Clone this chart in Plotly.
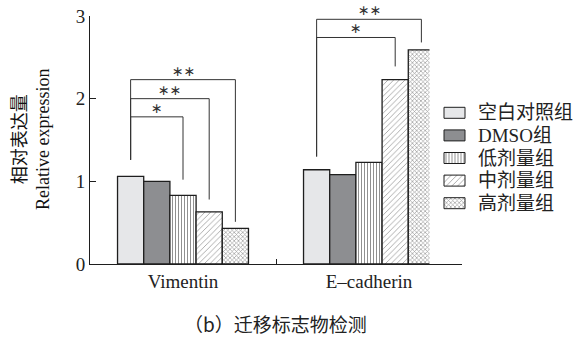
import plotly.graph_objects as go

# Relative expression of migration markers per treatment group
categories = ["Vimentin", "E–cadherin"]
groups = ["空白对照组", "DMSO组", "低剂量组", "中剂量组", "高剂量组"]
blank_ctrl = [1.06, 1.14]
dmso = [1.00, 1.08]
low_dose = [0.83, 1.23]
mid_dose = [0.63, 2.23]
high_dose = [0.43, 2.59]
series = [blank_ctrl, dmso, low_dose, mid_dose, high_dose]

# Significance brackets: (category index, compared group index, bracket level,
# left foot, right foot, label) — always compared against the blank control
brackets = [
    (0, 2, 1.78, 1.26, 1.02, "*"),
    (0, 3, 2.00, 1.26, 0.78, "**"),
    (0, 4, 2.23, 1.26, 0.51, "**"),
    (1, 3, 2.74, 1.30, 2.39, "*"),
    (1, 4, 2.96, 1.30, 2.68, "**"),
]

SERIF = "Liberation Serif, Noto Sans CJK SC, serif"
INK = "#1e1e1e"
fills = ["#e6e7e9", "#8d8e91", "white", "white", "white"]
patterns = [
    None,
    None,
    dict(shape="|", size=3, solidity=0.35, fgcolor="#222", bgcolor="white"),
    dict(shape="/", size=4, solidity=0.2, fgcolor="#333", bgcolor="white"),
    dict(shape="x", size=3, solidity=0.4, fgcolor="#333", bgcolor="white"),
]

BARGAP = 0.296
n = len(groups)
bar_w = (1 - BARGAP) / n

# Plot area spans the full width right of the left margin; the bar subplot
# takes the left part, the hand-drawn legend lives on an overlay subplot.
W, H = 575, 338
ML, MT, MB = 90, 16, 74
plot_w = W - ML
main_frac = 372 / plot_w

fig = go.Figure()
for name, vals, fill, pat in zip(groups, series, fills, patterns):
    marker = dict(color=fill, line=dict(color=INK, width=1.3))
    if pat:
        marker["pattern"] = pat
    fig.add_trace(go.Bar(x=categories, y=vals, name=name, marker=marker,
                         showlegend=False))


def bar_center(cat, k):
    return cat + (k - (n - 1) / 2) * bar_w


for cat, k, level, left_foot, right_foot, label in brackets:
    x0 = bar_center(cat, 0)
    x1 = bar_center(cat, k)
    fig.add_shape(
        type="path",
        path=f"M {x0},{left_foot} L {x0},{level} L {x1},{level} L {x1},{right_foot}",
        xref="x", yref="y", line=dict(color="#333", width=1),
    )
    fig.add_annotation(
        x=(x0 + x1) / 2, y=level, xref="x", yref="y", text=label.replace("*", "∗"),
        showarrow=False, yanchor="bottom", yshift=-1,
        font=dict(family="DejaVu Sans", size=14, color="#333"),
    )

# Legend: swatches drawn as filled scatter boxes on an overlay axis measured in pixels
LEG_X0 = 429.5          # left edge of the overlay subplot (px)
leg_left, leg_w, leg_h = 444 - LEG_X0, 21, 11
row0, row_gap = 112.8, 22.6
for i, (name, fill, pat) in enumerate(zip(groups, fills, patterns)):
    cy = row0 + i * row_gap
    y0, y1 = cy - leg_h / 2, cy + leg_h / 2
    x0, x1 = leg_left, leg_left + leg_w
    kw = dict(fillpattern=pat) if pat else {}
    fig.add_trace(go.Scatter(
        x=[x0, x1, x1, x0, x0], y=[y0, y0, y1, y1, y0],
        mode="lines", fill="toself", fillcolor=fill,
        line=dict(color=INK, width=1), xaxis="x2", yaxis="y2",
        showlegend=False, hoverinfo="skip", **kw,
    ))
    fig.add_annotation(
        x=x1 + 11, y=cy, xref="x2", yref="y2", text=name, showarrow=False,
        xanchor="left", yanchor="middle",
        font=dict(family=SERIF, size=19, color="#222"),
    )

fig.add_annotation(
    text="相对表达量<br>Relative expression", textangle=-90,
    xref="paper", yref="paper", x=(31 - ML) / plot_w, y=0.5,
    xanchor="center", yanchor="middle",
    showarrow=False, font=dict(family=SERIF, size=18, color="#111"),
)
fig.add_annotation(
    text="（b）迁移标志物检测",
    xref="paper", yref="paper", x=(275 - ML) / plot_w, y=(264 - 323) / (H - MT - MB),
    xanchor="center", yanchor="middle",
    showarrow=False,
    font=dict(family="Noto Sans CJK SC, Liberation Serif, serif", size=19, color="#222"),
)

fig.update_layout(
    width=W, height=H,
    margin=dict(l=ML, r=0, t=MT, b=MB),
    paper_bgcolor="white", plot_bgcolor="white",
    barmode="group", bargap=BARGAP, bargroupgap=0,
    font=dict(family=SERIF, size=19, color="#222"),
    showlegend=False,
    xaxis=dict(
        domain=[0, main_frac],
        type="category", range=[-0.5, 1.5], showline=True, linecolor=INK, linewidth=1,
        ticks="inside", tickson="boundaries", ticklen=5, tickcolor=INK,
        showgrid=False, tickfont=dict(family=SERIF, size=19, color="#222"),
    ),
    yaxis=dict(
        range=[0, 3], tickvals=[0, 1, 2, 3], showline=True, linecolor=INK, linewidth=1,
        ticks="inside", ticklen=6, tickcolor=INK, showgrid=False, zeroline=False,
        tickfont=dict(family=SERIF, size=19, color="#222"),
    ),
    xaxis2=dict(domain=[(LEG_X0 - ML) / plot_w, 1], range=[0, W - LEG_X0],
                visible=False, anchor="y2", fixedrange=True),
    yaxis2=dict(domain=[0, 1], range=[H - MB, MT], visible=False,
                anchor="x2", overlaying="y", fixedrange=True),
)

fig.write_html("out.html")
